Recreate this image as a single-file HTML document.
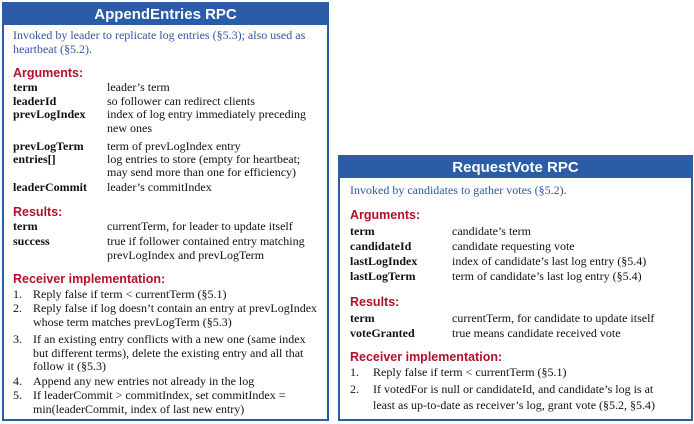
<!DOCTYPE html>
<html><head><style>
body{margin:0;width:694px;height:424px;background:#fff;position:relative;overflow:hidden;font-family:"Liberation Serif",serif;font-size:12px;color:#111}
.box{position:absolute;border:2px solid #2b5da6;box-sizing:border-box}
.hd{position:absolute;left:0;right:0;top:0;height:21px;background:#2b5da6;color:#fff;font-family:"Liberation Sans",sans-serif;font-weight:bold;font-size:15px;text-align:center;line-height:21px}
.t{position:absolute;line-height:14px;white-space:nowrap}
.b{font-weight:bold}
.i{color:#3355a0}
.h{color:#b0122a;font-family:"Liberation Sans",sans-serif;font-weight:bold;font-size:12.5px}
</style></head><body>
<div class="box" style="left:2px;top:2px;width:327px;height:419px"><div class="hd">AppendEntries RPC</div></div>
<div class="box" style="left:338px;top:155px;width:355px;height:266px"><div class="hd">RequestVote RPC</div></div>

<div class="t i" style="left:13px;top:28px">Invoked by leader to replicate log entries (§5.3); also used as</div>
<div class="t i" style="left:13px;top:42px">heartbeat (§5.2).</div>
<div class="t h" style="left:13px;top:66px">Arguments:</div>
<div class="t b" style="left:13px;top:80px">term</div><div class="t" style="left:107px;top:80px">leader’s term</div>
<div class="t b" style="left:13px;top:94px">leaderId</div><div class="t" style="left:107px;top:94px">so follower can redirect clients</div>
<div class="t b" style="left:13px;top:107px">prevLogIndex</div><div class="t" style="left:107px;top:107px">index of log entry immediately preceding</div>
<div class="t" style="left:107px;top:121px">new ones</div>
<div class="t b" style="left:13px;top:139px">prevLogTerm</div><div class="t" style="left:107px;top:139px">term of prevLogIndex entry</div>
<div class="t b" style="left:13px;top:152px">entries[]</div><div class="t" style="left:107px;top:152px">log entries to store (empty for heartbeat;</div>
<div class="t" style="left:107px;top:165px">may send more than one for efficiency)</div>
<div class="t b" style="left:13px;top:180px">leaderCommit</div><div class="t" style="left:107px;top:180px">leader’s commitIndex</div>
<div class="t h" style="left:13px;top:205px">Results:</div>
<div class="t b" style="left:13px;top:219px">term</div><div class="t" style="left:107px;top:219px">currentTerm, for leader to update itself</div>
<div class="t b" style="left:13px;top:234px">success</div><div class="t" style="left:107px;top:234px">true if follower contained entry matching</div>
<div class="t" style="left:107px;top:248px">prevLogIndex and prevLogTerm</div>
<div class="t h" style="left:13px;top:272px">Receiver implementation:</div>
<div class="t" style="left:13px;top:287px">1.</div><div class="t" style="left:33px;top:287px">Reply false if term &lt; currentTerm (§5.1)</div>
<div class="t" style="left:13px;top:301px">2.</div><div class="t" style="left:33px;top:301px">Reply false if log doesn’t contain an entry at prevLogIndex</div>
<div class="t" style="left:33px;top:315px">whose term matches prevLogTerm (§5.3)</div>
<div class="t" style="left:13px;top:332px">3.</div><div class="t" style="left:33px;top:332px">If an existing entry conflicts with a new one (same index</div>
<div class="t" style="left:33px;top:346px">but different terms), delete the existing entry and all that</div>
<div class="t" style="left:33px;top:359px">follow it (§5.3)</div>
<div class="t" style="left:13px;top:374px">4.</div><div class="t" style="left:33px;top:374px">Append any new entries not already in the log</div>
<div class="t" style="left:13px;top:388px">5.</div><div class="t" style="left:33px;top:388px">If leaderCommit &gt; commitIndex, set commitIndex =</div>
<div class="t" style="left:33px;top:402px">min(leaderCommit, index of last new entry)</div>

<div class="t i" style="left:350px;top:183px">Invoked by candidates to gather votes (§5.2).</div>
<div class="t h" style="left:350px;top:208px">Arguments:</div>
<div class="t b" style="left:350px;top:224px">term</div><div class="t" style="left:452px;top:224px">candidate’s term</div>
<div class="t b" style="left:350px;top:239px">candidateId</div><div class="t" style="left:452px;top:239px">candidate requesting vote</div>
<div class="t b" style="left:350px;top:254px">lastLogIndex</div><div class="t" style="left:452px;top:254px">index of candidate’s last log entry (§5.4)</div>
<div class="t b" style="left:350px;top:269px">lastLogTerm</div><div class="t" style="left:452px;top:269px">term of candidate’s last log entry (§5.4)</div>
<div class="t h" style="left:350px;top:295px">Results:</div>
<div class="t b" style="left:350px;top:311px">term</div><div class="t" style="left:452px;top:311px">currentTerm, for candidate to update itself</div>
<div class="t b" style="left:350px;top:326px">voteGranted</div><div class="t" style="left:452px;top:326px">true means candidate received vote</div>
<div class="t h" style="left:350px;top:350px">Receiver implementation:</div>
<div class="t" style="left:350px;top:365px">1.</div><div class="t" style="left:373px;top:365px">Reply false if term &lt; currentTerm (§5.1)</div>
<div class="t" style="left:350px;top:382px">2.</div><div class="t" style="left:373px;top:382px">If votedFor is null or candidateId, and candidate’s log is at</div>
<div class="t" style="left:373px;top:398px">least as up-to-date as receiver’s log, grant vote (§5.2, §5.4)</div>
</body></html>
